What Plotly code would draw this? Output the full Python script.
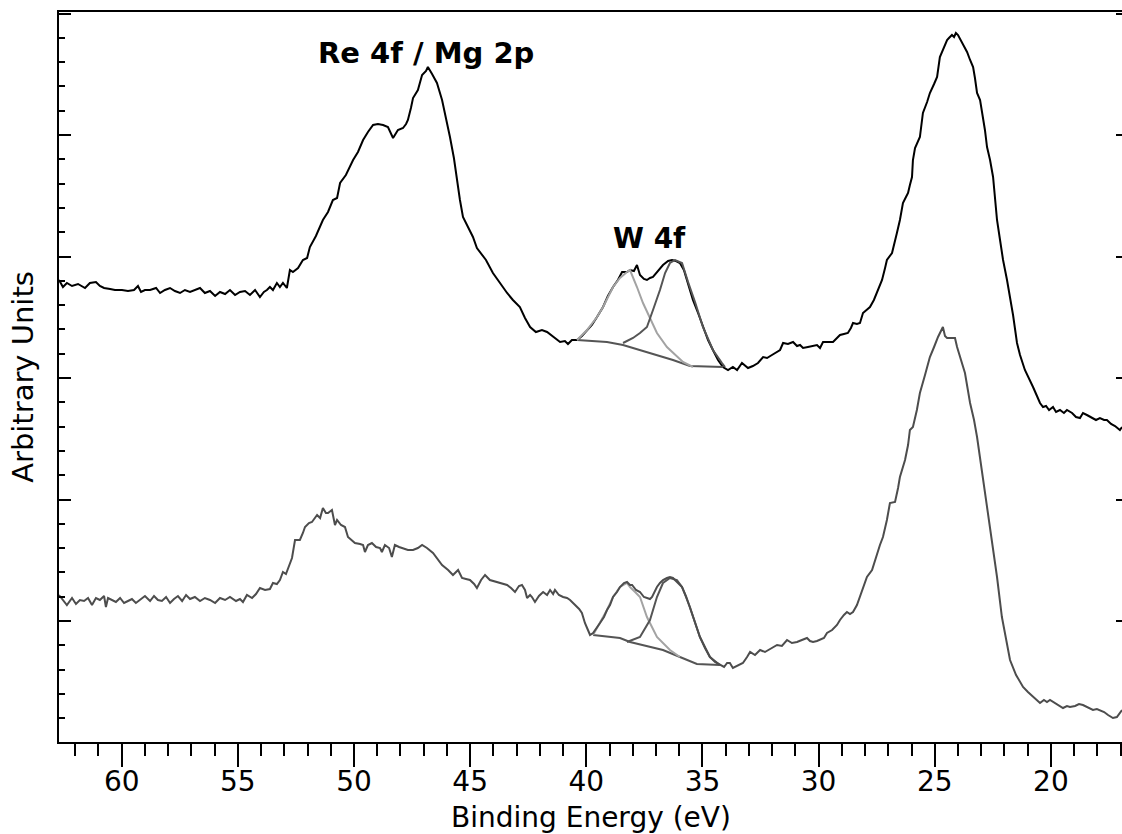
import plotly.graph_objects as go

# ---------------- data (binding energy in eV, intensity in arbitrary units) ----------------
TOP_E = [62.70, 62.53, 62.36, 62.14, 61.88, 61.58, 61.37, 61.11, 60.94, 60.76,
         60.50, 60.29, 59.99, 59.73, 59.47, 59.30, 59.17, 59.00, 58.78, 58.52,
         58.35, 58.14, 57.92, 57.71, 57.49, 57.28, 57.06, 56.85, 56.63, 56.42,
         56.20, 55.98, 55.77, 55.55, 55.34, 55.12, 54.91, 54.69, 54.48, 54.26,
         54.05, 53.88, 53.75, 53.62, 53.49, 53.32, 53.19, 53.06, 52.89, 52.76,
         52.63, 52.41, 52.20, 52.02, 51.90, 51.64, 51.34, 51.12, 50.91, 50.73,
         50.60, 50.35, 50.04, 49.83, 49.61, 49.40, 49.18, 48.97, 48.75, 48.54,
         48.41, 48.32, 48.11, 47.89, 47.76, 47.68, 47.55, 47.46, 47.25, 47.07,
         46.90, 46.82, 46.64, 46.43, 46.21, 46.04, 45.87, 45.70, 45.57, 45.44,
         45.31, 45.09, 44.88, 44.71, 44.58, 44.32, 44.02, 43.72, 43.41, 43.16,
         42.86, 42.64, 42.42, 42.17, 41.91, 41.69, 41.43, 41.13, 40.92, 40.79,
         40.62, 40.40, 40.19, 39.97, 39.76, 39.54, 39.28, 39.07, 38.85, 38.64,
         38.46, 38.25, 38.12, 37.95, 37.82, 37.69, 37.52, 37.39, 37.26, 37.13,
         36.91, 36.70, 36.48, 36.31, 36.14, 35.97, 35.80, 35.67, 35.54, 35.41,
         35.19, 34.98, 34.76, 34.55, 34.33, 34.12, 33.90, 33.69, 33.51, 33.30,
         33.04, 32.83, 32.61, 32.39, 32.22, 32.01, 31.83, 31.66, 31.53, 31.32,
         31.10, 30.93, 30.80, 30.67, 30.46, 30.24, 30.07, 29.94, 29.81, 29.60,
         29.38, 29.21, 29.08, 28.91, 28.74, 28.61, 28.52, 28.35, 28.22, 28.09,
         27.92, 27.79, 27.62, 27.49, 27.36, 27.27, 27.14, 27.06, 26.84, 26.71,
         26.63, 26.50, 26.37, 26.24, 26.15, 26.07, 25.98, 25.94, 25.85, 25.64,
         25.51, 25.33, 25.21, 25.03, 24.90, 24.78, 24.65, 24.47, 24.39, 24.26,
         24.17, 24.09, 24.00, 23.83, 23.61, 23.48, 23.35, 23.27, 23.18, 23.05,
         22.97, 22.84, 22.75, 22.62, 22.49, 22.41, 22.32, 22.19, 22.06, 21.89,
         21.76, 21.63, 21.46, 21.33, 21.12, 20.99, 20.77, 20.60, 20.47, 20.34,
         20.21, 20.08, 19.91, 19.78, 19.61, 19.44, 19.31, 19.09, 18.92, 18.75,
         18.62, 18.45, 18.27, 18.06, 17.89, 17.71, 17.59, 17.41, 17.24, 17.03,
         16.94]
TOP_I = [462, 455, 459, 456, 458, 454, 459, 460, 456, 454,
         453, 452, 452, 451, 452, 456, 450, 452, 452, 454,
         449, 452, 454, 451, 449, 452, 450, 452, 454, 449,
         451, 446, 450, 448, 452, 447, 450, 451, 447, 452,
         445, 450, 452, 455, 452, 459, 455, 459, 454, 472,
         470, 474, 482, 484, 495, 506, 522, 530, 542, 544,
         559, 567, 582, 590, 602, 610, 617, 618, 617, 615,
         609, 604, 612, 614, 618, 622, 634, 644, 652, 667,
         671, 675, 668, 659, 642, 624, 605, 584, 562, 542,
         525, 514, 505, 494, 490, 482, 469, 459, 449, 442,
         435, 424, 415, 410, 412, 410, 405, 400, 401, 398,
         402, 402, 406, 412, 417, 425, 435, 446, 455, 462,
         470, 470, 472, 471, 477, 467, 463, 462, 464, 465,
         471, 477, 481, 482, 481, 479, 472, 462, 452, 442,
         429, 415, 402, 392, 382, 375, 372, 375, 372, 379,
         374, 376, 379, 385, 384, 387, 390, 392, 399, 398,
         400, 396, 397, 394, 395, 396, 397, 394, 400, 400,
         400, 404, 407, 408, 409, 414, 419, 418, 419, 429,
         432, 435, 442, 449, 457, 462, 474, 482, 489, 500,
         509, 522, 539, 545, 549, 557, 565, 582, 594, 605,
         629, 640, 649, 658, 665, 685, 692, 702, 704, 707,
         705, 709, 707, 700, 690, 682, 675, 664, 649, 642,
         632, 612, 595, 582, 565, 542, 522, 502, 482, 462,
         445, 427, 399, 387, 372, 365, 355, 346, 339, 335,
         336, 332, 335, 330, 332, 329, 332, 329, 325, 324,
         329, 327, 325, 322, 324, 322, 322, 318, 316, 312,
         315]

BOT_E = [62.70, 62.53, 62.36, 62.14, 61.97, 61.80, 61.62, 61.45, 61.28, 61.11,
         60.94, 60.76, 60.68, 60.59, 60.42, 60.25, 60.07, 59.90, 59.73, 59.56,
         59.39, 59.21, 59.00, 58.78, 58.61, 58.44, 58.27, 58.09, 57.92, 57.75,
         57.58, 57.40, 57.23, 57.06, 56.85, 56.63, 56.42, 56.20, 55.98, 55.77,
         55.55, 55.34, 55.08, 54.91, 54.78, 54.61, 54.39, 54.22, 54.05, 53.83,
         53.62, 53.49, 53.32, 53.19, 53.06, 52.93, 52.84, 52.67, 52.54, 52.33,
         52.20, 52.11, 51.94, 51.81, 51.59, 51.46, 51.34, 51.21, 51.12, 50.95,
         50.82, 50.73, 50.56, 50.39, 50.26, 50.09, 49.96, 49.74, 49.61, 49.53,
         49.40, 49.23, 49.05, 48.88, 48.80, 48.67, 48.49, 48.37, 48.24, 48.06,
         47.89, 47.68, 47.46, 47.25, 47.07, 46.86, 46.60, 46.43, 46.21, 45.95,
         45.74, 45.52, 45.35, 45.18, 45.01, 44.83, 44.71, 44.53, 44.36, 44.15,
         43.85, 43.63, 43.41, 43.24, 43.07, 42.90, 42.77, 42.64, 42.55, 42.42,
         42.34, 42.21, 42.04, 41.86, 41.69, 41.56, 41.43, 41.35, 41.18, 41.00,
         40.83, 40.70, 40.49, 40.31, 40.19, 40.06, 39.93, 39.84, 39.71, 39.54,
         39.41, 39.24, 39.11, 38.98, 38.85, 38.68, 38.55, 38.38, 38.25, 38.12,
         38.03, 37.86, 37.69, 37.52, 37.39, 37.26, 37.17, 37.04, 36.96, 36.83,
         36.70, 36.53, 36.40, 36.27, 36.18, 36.01, 35.88, 35.71, 35.54, 35.32,
         35.11, 34.89, 34.68, 34.46, 34.25, 34.07, 33.94, 33.82, 33.69, 33.47,
         33.26, 33.08, 32.95, 32.74, 32.52, 32.31, 32.09, 31.79, 31.58, 31.36,
         31.15, 30.93, 30.72, 30.50, 30.37, 30.24, 30.07, 29.94, 29.77, 29.64,
         29.42, 29.21, 29.08, 28.91, 28.78, 28.65, 28.52, 28.35, 28.22, 28.09,
         27.92, 27.70, 27.49, 27.36, 27.23, 27.06, 26.93, 26.71, 26.58, 26.50,
         26.28, 26.15, 26.07, 25.94, 25.77, 25.64, 25.42, 25.21, 25.03, 24.86,
         24.65, 24.56, 24.47, 24.30, 24.13, 24.04, 23.87, 23.70, 23.48, 23.31,
         23.18, 22.97, 22.79, 22.62, 22.49, 22.32, 22.11, 21.93, 21.76, 21.50,
         21.20, 20.99, 20.77, 20.60, 20.47, 20.30, 20.17, 20.04, 19.91, 19.70,
         19.48, 19.31, 19.18, 18.96, 18.79, 18.62, 18.40, 18.19, 18.02, 17.89,
         17.71, 17.54, 17.33, 17.16, 17.03, 16.94]
BOT_I = [147, 142, 137, 144, 138, 142, 141, 144, 137, 144,
         142, 146, 135, 144, 142, 140, 144, 139, 141, 143,
         139, 142, 146, 141, 146, 142, 141, 145, 139, 143,
         146, 141, 147, 143, 145, 141, 144, 142, 139, 144,
         142, 145, 141, 143, 140, 147, 144, 148, 154, 152,
         153, 159, 158, 162, 170, 168, 174, 184, 202, 202,
         209, 215, 219, 220, 227, 224, 234, 229, 229, 232,
         217, 222, 217, 215, 205, 202, 199, 198, 197, 190,
         197, 199, 195, 194, 190, 197, 194, 185, 197, 195,
         194, 192, 192, 194, 197, 194, 189, 184, 177, 172,
         167, 172, 164, 163, 162, 158, 154, 162, 167, 162,
         160, 158, 157, 154, 150, 156, 157, 152, 144, 147,
         145, 140, 146, 150, 147, 152, 148, 152, 147, 145,
         144, 142, 137, 133, 129, 119, 112, 107, 109, 114,
         119, 125, 132, 137, 145, 150, 155, 159, 160, 157,
         157, 152, 150, 145, 144, 143, 145, 152, 155, 159,
         162, 164, 165, 164, 162, 158, 155, 146, 135, 120,
         105, 94, 85, 80, 77, 75, 79, 79, 74, 77,
         79, 85, 90, 87, 92, 90, 93, 97, 96, 102,
         99, 100, 102, 104, 101, 100, 101, 102, 104, 109,
         112, 117, 122, 127, 130, 128, 130, 137, 145, 154,
         165, 172, 189, 197, 205, 222, 239, 240, 254, 265,
         282, 297, 312, 315, 332, 349, 367, 385, 395, 405,
         415, 406, 404, 404, 404, 395, 382, 369, 339, 322,
         305, 272, 242, 215, 192, 165, 125, 102, 82, 67,
         55, 50, 45, 42, 39, 42, 40, 42, 40, 37,
         34, 36, 35, 36, 38, 37, 34, 32, 33, 32,
         30, 27, 24, 25, 29, 32]

# W 4f peak fits, upper spectrum
TOP_BASE_E = [40.40, 39.11, 38.42, 37.69, 36.96, 36.27, 35.54, 34.12]
TOP_BASE_I = [402, 400, 397, 392, 387, 382, 376, 375]
TOP_C1_E = [40.40, 39.97, 39.54, 39.28, 38.85, 38.55, 38.25, 38.12, 37.82, 37.56,
            37.26, 36.96, 36.53, 36.27, 35.84, 35.41]
TOP_C1_I = [402, 412, 425, 435, 455, 464, 470, 472, 455, 439,
            424, 409, 395, 389, 380, 375]
TOP_C2_E = [38.42, 37.99, 37.69, 37.39, 37.13, 36.83, 36.61, 36.40, 36.18, 35.88,
            35.62, 35.32, 34.98, 34.55, 34.16, 34.03]
TOP_C2_I = [399, 404, 409, 415, 432, 452, 469, 479, 482, 479,
            460, 440, 415, 392, 379, 375]

# W 4f peak fits, lower spectrum
BOT_BASE_E = [39.71, 38.55, 38.12, 37.56, 36.70, 35.97, 35.24, 34.25]
BOT_BASE_I = [107, 104, 100, 97, 92, 85, 78, 77]
BOT_C1_E = [39.71, 39.41, 39.11, 38.85, 38.55, 38.25, 38.12, 37.90, 37.69, 37.39,
            37.17, 36.96, 36.40, 35.97]
BOT_C1_I = [107, 119, 132, 145, 155, 159, 155, 150, 145, 125,
            114, 105, 92, 85]
BOT_C2_E = [38.25, 37.69, 37.26, 36.96, 36.70, 36.40, 36.10, 35.88, 35.54, 35.11,
            34.68, 34.25]
BOT_C2_I = [100, 105, 122, 145, 159, 164, 162, 155, 135, 105,
            85, 77]

X_TICKS = [20, 25, 30, 35, 40, 45, 50, 55, 60]
X_TICK_TEXT = ["20", "25", "30", "35", "40", "45", "50", "55", "60"]
X_TITLE = "Binding Energy (eV)"
Y_TITLE = "Arbitrary Units"
LABEL_RE = "Re 4f / Mg 2p"
LABEL_W = "W 4f"

FONT = "DejaVu Sans"

fig = go.Figure()
fig.add_trace(go.Scatter(x=TOP_E, y=TOP_I, mode="lines",
                         line=dict(color="#000000", width=2)))
fig.add_trace(go.Scatter(x=BOT_E, y=BOT_I, mode="lines", yaxis="y2",
                         line=dict(color="#4d4d4d", width=2)))

fits = [
    (TOP_BASE_E, TOP_BASE_I, "#555555"),
    (TOP_C1_E, TOP_C1_I, "#a3a3a3"),
    (TOP_C2_E, TOP_C2_I, "#555555"),
    (BOT_BASE_E, BOT_BASE_I, "#555555"),
    (BOT_C1_E, BOT_C1_I, "#a3a3a3"),
    (BOT_C2_E, BOT_C2_I, "#555555"),
]
for ex, iy, col in fits:
    fig.add_trace(go.Scatter(x=ex, y=iy, mode="lines",
                             line=dict(color=col, width=2)))

YR = [0, 730]
fig.update_layout(
    width=1122, height=834,
    margin=dict(l=59, r=0, t=12, b=92),
    paper_bgcolor="white", plot_bgcolor="white",
    showlegend=False,
    font=dict(family=FONT, color="black"),
    xaxis=dict(
        range=[62.7, 16.94],
        tickmode="array", tickvals=X_TICKS, ticktext=X_TICK_TEXT,
        ticks="outside", ticklen=23, tickwidth=2, tickcolor="black",
        ticklabelstandoff=-10,
        tickfont=dict(family=FONT, size=28, color="black"),
        showline=True, linewidth=2, linecolor="black", mirror=True,
        showgrid=False, zeroline=False,
        minor=dict(tickmode="linear", tick0=0, dtick=1, ticks="outside",
                   ticklen=12, tickwidth=2, tickcolor="black", showgrid=False),
    ),
    yaxis=dict(
        range=YR,
        tickmode="linear", tick0=121, dtick=121.5,
        ticks="inside", ticklen=12, tickwidth=2, tickcolor="black",
        showticklabels=False,
        showline=True, linewidth=2, linecolor="black", mirror=False,
        showgrid=False, zeroline=False,
        minor=dict(tickmode="linear", tick0=121, dtick=24.3, ticks="inside",
                   ticklen=6, tickwidth=2, tickcolor="black", showgrid=False),
    ),
    yaxis2=dict(
        range=YR, overlaying="y", side="right",
        tickmode="linear", tick0=121, dtick=121.5,
        ticks="inside", ticklen=6, tickwidth=2, tickcolor="black",
        showticklabels=False, showline=False,
        showgrid=False, zeroline=False,
    ),
    annotations=[
        dict(text=X_TITLE, xref="paper", yref="paper", x=0.5, y=-0.104,
             xanchor="center", yanchor="middle", showarrow=False,
             font=dict(family=FONT, size=28, color="black")),
        dict(text=Y_TITLE, xref="paper", yref="paper", x=-0.034, y=0.5,
             xanchor="center", yanchor="middle", textangle=-90, showarrow=False,
             font=dict(family=FONT, size=29, color="black")),
        dict(text="<b>" + LABEL_RE + "</b>", xref="x", yref="y", x=46.92, y=689,
             xanchor="center", yanchor="middle", showarrow=False,
             font=dict(family=FONT, size=29, color="black")),
        dict(text="<b>" + LABEL_W + "</b>", xref="x", yref="y", x=37.26, y=504,
             xanchor="center", yanchor="middle", showarrow=False,
             font=dict(family=FONT, size=28, color="black")),
    ],
)

fig.write_html("out.html")
